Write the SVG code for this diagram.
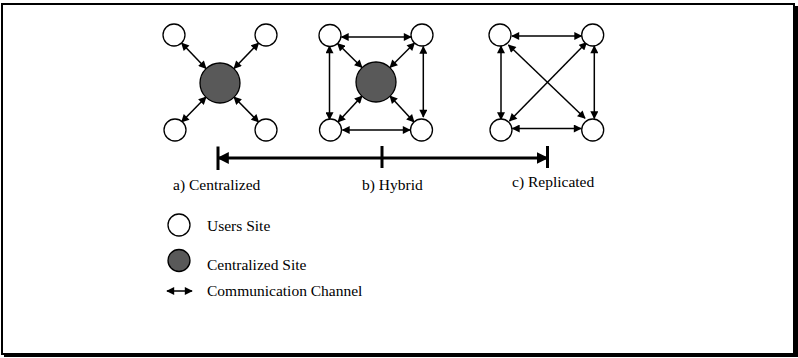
<svg xmlns="http://www.w3.org/2000/svg" width="798" height="358" viewBox="0 0 798 358">
<defs>
<style>
.u{fill:#fff;stroke:#000;stroke-width:1.3}
.c{fill:#595959;stroke:#000;stroke-width:1.3}
.e{stroke:#000;stroke-width:1.5;fill:none;marker-start:url(#ah);marker-end:url(#ah)}
</style>
<marker id="ah" viewBox="0 0 10 10" refX="9" refY="5" markerUnits="userSpaceOnUse" markerWidth="9" markerHeight="8" orient="auto-start-reverse">
<path d="M0,0 L10,5 L0,10 z" fill="#000"/>
</marker>
<marker id="bh" viewBox="0 0 10 10" refX="9" refY="5" markerUnits="userSpaceOnUse" markerWidth="12" markerHeight="12" orient="auto-start-reverse">
<path d="M0,0 L10,5 L0,10 z" fill="#000"/>
</marker>
</defs>
<rect width="798" height="358" fill="#fff"/>
<rect x="2" y="4" width="792" height="350" fill="none" stroke="#000" stroke-width="2"/>
<rect x="795" y="6" width="3" height="351" fill="#000"/>
<rect x="4" y="354" width="794" height="3" fill="#000"/>

<g id="connectors">
<line class="e" x1="181.6" y1="43" x2="206" y2="68.5"/>
<line class="e" x1="258.6" y1="43" x2="234" y2="68.5"/>
<line class="e" x1="181.6" y1="122" x2="206" y2="97"/>
<line class="e" x1="258.6" y1="122" x2="234" y2="97"/>
<line class="e" x1="337.6" y1="43.5" x2="362" y2="67.5"/>
<line class="e" x1="414.5" y1="43" x2="390" y2="67.5"/>
<line class="e" x1="338" y1="122" x2="362" y2="96"/>
<line class="e" x1="414" y1="122" x2="390" y2="96"/>
<line class="e" x1="341.5" y1="37" x2="411" y2="37"/>
<line class="e" x1="342.5" y1="130" x2="410" y2="130"/>
<line class="e" x1="329.5" y1="46" x2="329.5" y2="119.5"/>
<line class="e" x1="423.3" y1="46.5" x2="423.3" y2="117"/>
<line class="e" x1="512" y1="36" x2="581.5" y2="36"/>
<line class="e" x1="512.5" y1="128.5" x2="581" y2="128.5"/>
<line class="e" x1="501" y1="46" x2="501" y2="119.5"/>
<line class="e" x1="594.3" y1="46" x2="594.3" y2="118.5"/>
<line class="e" x1="508.5" y1="45" x2="585" y2="118.3"/>
<line class="e" x1="586.5" y1="42.5" x2="509.5" y2="121"/>
<line x1="218" y1="158" x2="547.5" y2="158" stroke="#000" stroke-width="3" marker-start="url(#bh)" marker-end="url(#bh)"/>
<line x1="218" y1="146.5" x2="218" y2="170" stroke="#000" stroke-width="3"/>
<line x1="382" y1="146" x2="382" y2="168" stroke="#000" stroke-width="3"/>
<line x1="547.5" y1="146" x2="547.5" y2="168" stroke="#000" stroke-width="3"/>
<line class="e" x1="167" y1="291" x2="192" y2="291"/>
</g>

<g id="a-centralized">
<circle class="u" cx="174" cy="35" r="11"/>
<circle class="u" cx="266" cy="35" r="11"/>
<circle class="u" cx="175" cy="130" r="11"/>
<circle class="u" cx="266" cy="130" r="11"/>
<circle class="c" cx="220" cy="83" r="20"/>
</g>
<g id="b-hybrid">
<circle class="u" cx="330" cy="35.5" r="11"/>
<circle class="u" cx="422" cy="35" r="11"/>
<circle class="u" cx="330.5" cy="130" r="11"/>
<circle class="u" cx="421.5" cy="130" r="11"/>
<circle class="c" cx="376" cy="82" r="20"/>
</g>
<g id="c-replicated">
<circle class="u" cx="500" cy="35" r="11"/>
<circle class="u" cx="592.7" cy="35" r="11"/>
<circle class="u" cx="501" cy="130" r="11"/>
<circle class="u" cx="592.7" cy="130" r="11"/>
</g>

<g id="labels" font-family="'Liberation Serif', 'DejaVu Serif', serif" font-size="15.5" fill="#000">
<text x="173" y="190">a) Centralized</text>
<text x="362" y="190">b) Hybrid</text>
<text x="512" y="187">c) Replicated</text>
</g>

<g id="legend" font-family="'Liberation Serif', 'DejaVu Serif', serif" font-size="15.5" fill="#000">
<circle class="u" cx="179" cy="225" r="11"/>
<text x="207" y="230.5">Users Site</text>
<circle class="c" cx="179" cy="260.5" r="11"/>
<text x="207" y="270">Centralized Site</text>
<text x="207" y="296">Communication Channel</text>
</g>
</svg>
